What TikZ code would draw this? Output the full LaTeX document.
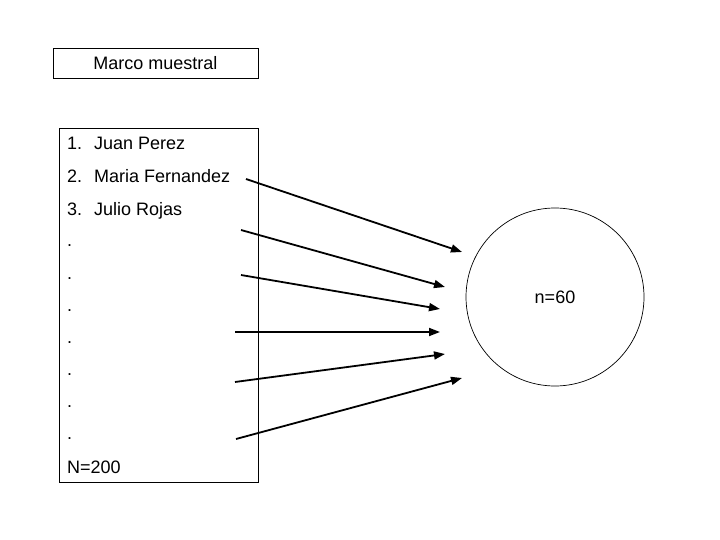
\documentclass[tikz,border=0pt]{standalone}
\usepackage{fontspec}
\setmainfont{Liberation Sans}
\usetikzlibrary{arrows.meta}
\begin{document}
\begin{tikzpicture}[x=1pt, y=-1pt,
    frame/.style={draw, line width=0.8pt, inner sep=0pt},
    item/.style={anchor=base west, inner sep=0pt, font=\fontsize{18}{21}\selectfont},
    pick/.style={line width=1.8pt, -{Triangle[length=11pt, width=8pt]}}
]
\useasboundingbox (0,0) rectangle (720,540);
% marco muestral y lista
\node[frame, minimum width=205pt, minimum height=30pt, font=\fontsize{18}{21}\selectfont] (marco) at (155.5,63) {Marco muestral};
\node[frame, minimum width=199pt, minimum height=354pt] (lista) at (158.5,305) {};
\node[item] (p1) at (67,149.5) {\makebox[27pt][l]{1.}Juan Perez};
\node[item] (p2) at (67,182.5) {\makebox[27pt][l]{2.}Maria Fernandez};
\node[item] (p3) at (67,215) {\makebox[27pt][l]{3.}Julio Rojas};
\foreach \y [count=\i] in {247,279,311,343,375,407,439}
  \node[item] (d\i) at (67,\y) {.};
\node[item] (total) at (67,473.5) {N=200};
% muestra
\node[draw, circle, line width=0.7pt, minimum size=178pt, inner sep=0pt, font=\fontsize{18}{21}\selectfont] (muestra) at (555,297) {n=60};
% flechas
\foreach \sx/\sy/\ex/\ey [count=\i] in {246/179/462/252, 241/230/445/287, 241/275/440/309, 235/332/440/332, 235/382/445/354, 236/439/462/378}{
  \coordinate (s\i) at (\sx,\sy);
  \coordinate (e\i) at (\ex,\ey);
  \draw[pick] (s\i) -- (e\i);
}
\end{tikzpicture}
\end{document}
